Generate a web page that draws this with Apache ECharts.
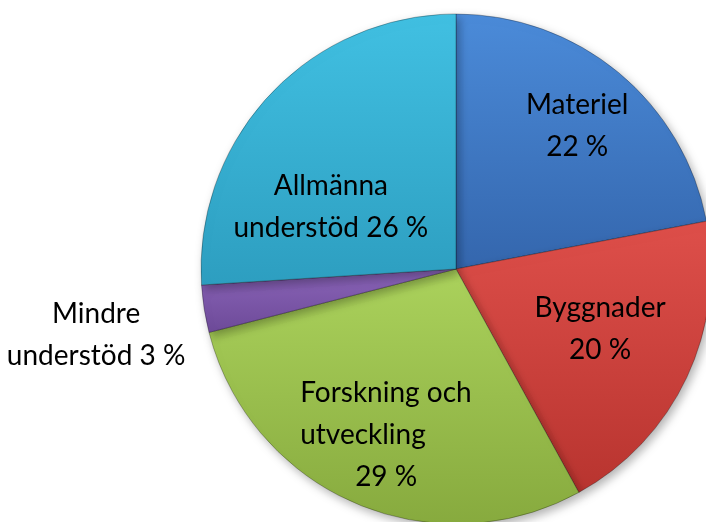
<!DOCTYPE html>
<html>
<head>
<meta charset="utf-8">
<script src="https://cdn.jsdelivr.net/npm/echarts@6/dist/echarts.min.js"></script>
<style>
  html, body { margin: 0; padding: 0; background: #ffffff; }
  #main { width: 706px; height: 522px; }
</style>
</head>
<body>
<div id="main"></div>
<script>
var categories = ['Materiel', 'Byggnader', 'Forskning och\nutveckling', 'Mindre\nunderstöd', 'Allmänna\nunderstöd'];
var shares = [22, 20, 29, 3, 26];
var labelSeparators = ['\n', '\n', '\n', ' ', ' '];

var topColors = ['#4b8bd9', '#de4f4a', '#abd25c', '#8a64b8', '#41c0e2'];
var bottomColors = ['#3466ad', '#b8342f', '#87aa3e', '#6d4a98', '#2d9ec0'];

// small nudges so the labels sit where the original has them
var labelNudge = [[38, -42], [26, 4], [-18, 46], [-231, 46], [-30, 27]];
// the wrapped name of this slice is left aligned in the original
var leftWrapped = [false, false, true, false, false];

var myChart = echarts.init(document.getElementById('main'));

var pieData = [];
for (var i = 0; i < shares.length; i++)
{
    pieData.push({
        name: categories[i],
        value: shares[i],
        itemStyle:
        {
            color:
            {
                type: 'linear', x: 0, y: 0, x2: 0, y2: 1,
                colorStops: [
                    { offset: 0, color: topColors[i] },
                    { offset: 1, color: bottomColors[i] }
                ]
            }
        }
    });
}

option =
{
    animation: false,
    backgroundColor: '#ffffff',
    series:
    {
        type: 'pie',
        center: [456, 269],
        radius: 255,
        startAngle: 90,
        clockwise: true,
        avoidLabelOverlap: false,
        data: pieData,
        itemStyle:
        {
            borderColor: 'rgba(0,0,0,0.28)',
            borderWidth: 1,
            shadowBlur: 10,
            shadowOffsetX: 3,
            shadowOffsetY: 4,
            shadowColor: 'rgba(0,0,0,0.3)'
        },
        label:
        {
            show: true,
            position: 'inside',
            color: '#000000',
            fontFamily: 'Lato',
            fontSize: 28,
            lineHeight: 42,
            align: 'center',
            rich:
            {
                w:
                {
                    width: 172,
                    align: 'left',
                    color: '#000000',
                    fontFamily: 'Lato',
                    fontSize: 28,
                    lineHeight: 42
                }
            },
            formatter: function (p)
            {
                var name = p.name;
                if (leftWrapped[p.dataIndex])
                {
                    name = name.split('\n').map(function (s) { return '{w|' + s + '}'; }).join('\n');
                }
                return name + labelSeparators[p.dataIndex] + p.value + ' %';
            }
        },
        labelLine: { show: false },
        labelLayout: function (p)
        {
            return { dx: labelNudge[p.dataIndex][0], dy: labelNudge[p.dataIndex][1] };
        },
        emphasis: { disabled: true }
    }
};

myChart.setOption(option);
</script>
</body>
</html>
